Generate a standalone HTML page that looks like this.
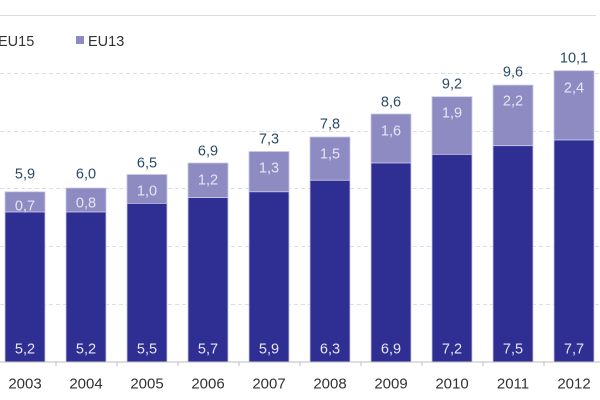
<!DOCTYPE html>
<html><head><meta charset="utf-8"><style>
html,body{margin:0;padding:0;background:#fff;}
svg{display:block;}
text{font-family:"Liberation Sans",sans-serif;}
</style></head><body>
<svg width="600" height="400" viewBox="0 0 600 400" xmlns="http://www.w3.org/2000/svg">
<rect width="600" height="400" fill="#fff"/>
<line x1="0" y1="15.5" x2="596" y2="15.5" stroke="#dcdcdc" stroke-width="1"/>
<g stroke="#dedede" stroke-width="1" stroke-dasharray="4,3">
<line x1="0" y1="73.5" x2="600" y2="73.5"/>
<line x1="0" y1="131.5" x2="600" y2="131.5"/>
<line x1="0" y1="188.5" x2="600" y2="188.5"/>
<line x1="0" y1="246.5" x2="600" y2="246.5"/>
<line x1="0" y1="304.5" x2="600" y2="304.5"/>
</g>
<rect x="76" y="36" width="8" height="8" fill="#8e8bc2"/>
<text x="-2" y="46" font-size="14.5" fill="#333">EU15</text>
<text x="88" y="46" font-size="14.5" fill="#333">EU13</text>
<g stroke="#c9c8e6" stroke-width="0.8">
<rect x="5" y="191.8" width="40" height="20.2" fill="#8e8bc2"/><rect x="5" y="212" width="40" height="150" fill="#2f2e93"/>
<rect x="66" y="188" width="40" height="24" fill="#8e8bc2"/><rect x="66" y="212" width="40" height="150" fill="#2f2e93"/>
<rect x="127" y="174.5" width="40" height="28.9" fill="#8e8bc2"/><rect x="127" y="203.4" width="40" height="158.6" fill="#2f2e93"/>
<rect x="188" y="163" width="40" height="34.6" fill="#8e8bc2"/><rect x="188" y="197.6" width="40" height="164.4" fill="#2f2e93"/>
<rect x="249" y="151.5" width="40" height="40.3" fill="#8e8bc2"/><rect x="249" y="191.8" width="40" height="170.2" fill="#2f2e93"/>
<rect x="310" y="137" width="40" height="43.3" fill="#8e8bc2"/><rect x="310" y="180.3" width="40" height="181.7" fill="#2f2e93"/>
<rect x="371" y="114" width="40" height="49" fill="#8e8bc2"/><rect x="371" y="163" width="40" height="199" fill="#2f2e93"/>
<rect x="432" y="96.7" width="40" height="57.7" fill="#8e8bc2"/><rect x="432" y="154.4" width="40" height="207.6" fill="#2f2e93"/>
<rect x="493" y="85.1" width="40" height="60.6" fill="#8e8bc2"/><rect x="493" y="145.7" width="40" height="216.3" fill="#2f2e93"/>
<rect x="554" y="70.7" width="40" height="69.3" fill="#8e8bc2"/><rect x="554" y="140" width="40" height="222" fill="#2f2e93"/>
</g>
<line x1="0" y1="362" x2="600" y2="362" stroke="#bdbdbd" stroke-width="1"/>
<g stroke="#bdbdbd" stroke-width="1">
<line x1="56" y1="362" x2="56" y2="366"/><line x1="117" y1="362" x2="117" y2="366"/><line x1="178" y1="362" x2="178" y2="366"/>
<line x1="239" y1="362" x2="239" y2="366"/><line x1="300" y1="362" x2="300" y2="366"/><line x1="361" y1="362" x2="361" y2="366"/>
<line x1="422" y1="362" x2="422" y2="366"/><line x1="483" y1="362" x2="483" y2="366"/><line x1="544" y1="362" x2="544" y2="366"/>
</g>
<g font-size="14.5" fill="#2a4a68" text-anchor="middle">
<text x="25" y="178.5">5,9</text><text x="86" y="178.5">6,0</text><text x="147" y="167.5">6,5</text><text x="208" y="155.5">6,9</text><text x="269" y="143.5">7,3</text>
<text x="330" y="128.5">7,8</text><text x="391" y="106.5">8,6</text><text x="452" y="88.5">9,2</text><text x="513" y="76.5">9,6</text><text x="574" y="62.5">10,1</text>
</g>
<g font-size="14.5" fill="#e6e5f4" text-anchor="middle">
<text x="25" y="210.5">0,7</text><text x="86" y="207.5">0,8</text><text x="147" y="195.5">1,0</text><text x="208" y="184.5">1,2</text><text x="269" y="172.5">1,3</text>
<text x="330" y="158.5">1,5</text><text x="391" y="135.5">1,6</text><text x="452" y="117.5">1,9</text><text x="513" y="105.5">2,2</text><text x="574" y="92.5">2,4</text>
</g>
<g font-size="14.5" fill="#e6e5f4" text-anchor="middle">
<text x="25" y="353.5">5,2</text><text x="86" y="353.5">5,2</text><text x="147" y="353.5">5,5</text><text x="208" y="353.5">5,7</text><text x="269" y="353.5">5,9</text>
<text x="330" y="353.5">6,3</text><text x="391" y="353.5">6,9</text><text x="452" y="353.5">7,2</text><text x="513" y="353.5">7,5</text><text x="574" y="353.5">7,7</text>
</g>
<g font-size="15" fill="#333" text-anchor="middle">
<text x="25" y="388.5">2003</text><text x="86" y="388.5">2004</text><text x="147" y="388.5">2005</text><text x="208" y="388.5">2006</text><text x="269" y="388.5">2007</text>
<text x="330" y="388.5">2008</text><text x="391" y="388.5">2009</text><text x="452" y="388.5">2010</text><text x="513" y="388.5">2011</text><text x="574" y="388.5">2012</text>
</g>
</svg>
</body></html>
